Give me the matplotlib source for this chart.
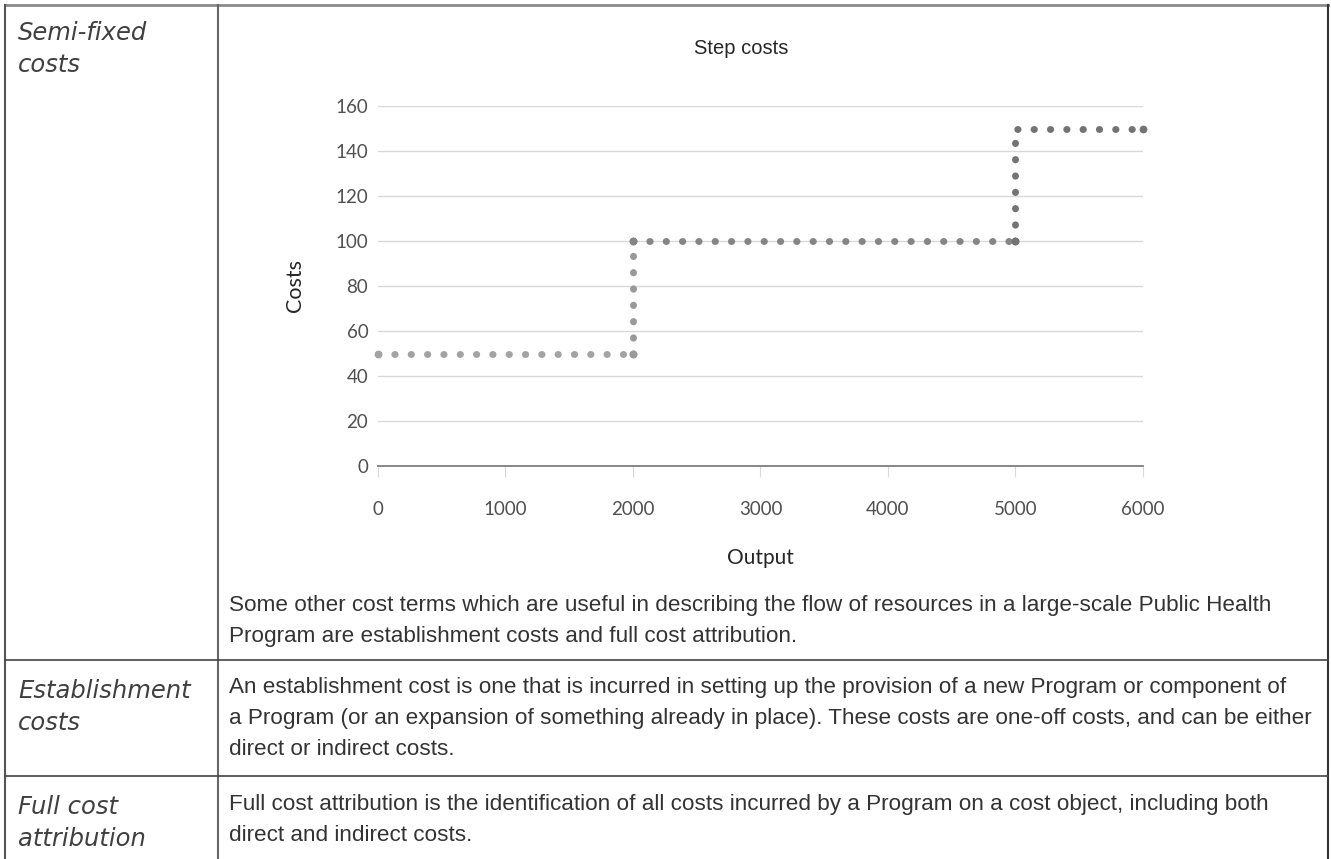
import matplotlib
matplotlib.use("Agg")
import matplotlib.pyplot as plt
from matplotlib.lines import Line2D

W, H = 1331, 859

# dados do gráfico (custos em degraus)
seg1_x = [0, 2000]
seg1_y = [50, 50]
seg2_x = [2000, 2000]
seg2_y = [50, 100]
seg3_x = [2000, 5000]
seg3_y = [100, 100]
seg4_x = [5000, 5000, 6000]
seg4_y = [100, 150, 150]
cores = ["#a3a3a3", "#999999", "#858585", "#737373"]

x_ticks = [0, 1000, 2000, 3000, 4000, 5000, 6000]
y_ticks = [0, 20, 40, 60, 80, 100, 120, 140, 160]

rotulos = [["Semi-fixed", "costs"], ["Establishment", "costs"], ["Full cost", "attribution"]]
textos = [
    ["Some other cost terms which are useful in describing the flow of resources in a large-scale Public Health",
     "Program are establishment costs and full cost attribution."],
    ["An establishment cost is one that is incurred in setting up the provision of a new Program or component of",
     "a Program (or an expansion of something already in place). These costs are one-off costs, and can be either",
     "direct or indirect costs."],
    ["Full cost attribution is the identification of all costs incurred by a Program on a cost object, including both",
     "direct and indirect costs."],
]


def fx(px):
    return px / W


def fy(py):
    return 1 - py / H


fig = plt.figure(figsize=(W / 100, H / 100), dpi=100)

# -----------------------
# Tabela (bordas)
# -----------------------
linhas = [
    ([5, 1328], [5, 5], "#8a8a8a", 2.0),
    ([5, 5], [5, 859], "#555555", 1.5),
    ([1328, 1328], [5, 859], "#333333", 1.5),
    ([218, 218], [5, 859], "#666666", 1.5),
    ([5, 1328], [660, 660], "#444444", 1.2),
    ([5, 1328], [776, 776], "#444444", 1.2),
]
for xs, ys, c, lw in linhas:
    fig.add_artist(Line2D([fx(v) for v in xs], [fy(v) for v in ys], color=c, lw=lw))

# rótulos em itálico da primeira coluna (linha de base da 1a linha)
pos_rotulos = [40, 698, 814]
for partes, y in zip(rotulos, pos_rotulos):
    for i, p in enumerate(partes):
        fig.text(fx(18), fy(y + i * 31.5), p, family="DejaVu Sans", style="italic",
                 fontsize=17.5, color="#404040", va="baseline", ha="left")

# texto do corpo (linha de base da 1a linha)
pos_texto = [611, 693, 810]
for partes, y in zip(textos, pos_texto):
    for i, p in enumerate(partes):
        fig.text(fx(229), fy(y + i * 31), p, family="Liberation Sans", fontsize=16.2,
                 color="#333333", va="baseline", ha="left")

# -----------------------
# Gráfico de custos em degraus
# -----------------------
ax = fig.add_axes([fx(378), fy(466), fx(1143) - fx(378), fy(106) - fy(466)])
for xs, ys, c in zip([seg1_x, seg2_x, seg3_x, seg4_x], [seg1_y, seg2_y, seg3_y, seg4_y], cores):
    ax.plot(xs, ys, color=c, lw=5.0, linestyle=(0, (0.05, 2.3)), dash_capstyle="round",
            marker="o", markersize=5.6, markeredgewidth=0, markevery=[0, -1],
            zorder=3, clip_on=False)

ax.set_xlim(0, 6000)
ax.set_ylim(0, 160)
ax.set_xticks(x_ticks)
ax.set_yticks(y_ticks)
ax.set_xticklabels([str(v) for v in x_ticks], family="Lato", fontsize=13.5, color="#505050")
ax.set_yticklabels([str(v) for v in y_ticks], family="Lato", fontsize=13.5, color="#505050")
ax.grid(axis="y", color="#d9d9d9", lw=1)
ax.set_axisbelow(True)
for s in ["top", "right", "left"]:
    ax.spines[s].set_visible(False)
ax.spines["bottom"].set_color("#7f7f7f")
ax.spines["bottom"].set_linewidth(1.3)
ax.tick_params(axis="y", length=0, pad=7)
ax.tick_params(axis="x", length=8, color="#d9d9d9", pad=17)

ax.set_xlabel("Output", family="Lato", fontsize=15, color="#262626", labelpad=22)
ax.set_ylabel("Costs", family="Lato", fontsize=15.5, color="#262626", labelpad=22)
fig.text(fx(741), fy(48), "Step costs", family="Liberation Sans", fontsize=14.5,
         color="#262626", ha="center", va="center")

fig.savefig("out.png", dpi=100, facecolor="white")
